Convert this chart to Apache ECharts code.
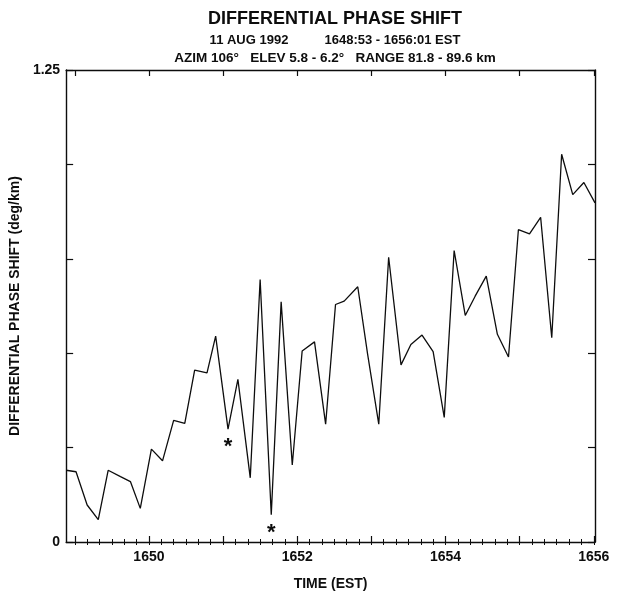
<!DOCTYPE html>
<html>
<head>
<meta charset="utf-8">
<script src="https://cdn.jsdelivr.net/npm/echarts@6/dist/echarts.min.js"></script>
<style>
  html, body { margin: 0; padding: 0; background: #fff; }
  #chart { width: 624px; height: 596px; }
</style>
</head>
<body>
<div id="chart"></div>
<script>
// Scan times, seconds after 16:48:00 EST
const scanSeconds = [
  53, 61, 70, 79, 87, 97, 105, 113, 122, 131,
  140, 149, 157, 167, 174, 184, 192, 202, 210, 219,
  227, 236, 244, 254, 263, 271, 278, 289, 297, 306,
  314, 324, 332, 341, 350, 359, 367, 376, 384, 393,
  402, 411, 419, 428, 437, 446, 454, 463, 472, 481
];
// Differential phase shift, deg/km
const phaseShift = [
  0.190, 0.186, 0.098, 0.059, 0.190, 0.173, 0.160, 0.089, 0.246, 0.215,
  0.322, 0.314, 0.455, 0.448, 0.545, 0.299, 0.431, 0.170, 0.695, 0.072,
  0.636, 0.204, 0.506, 0.530, 0.312, 0.629, 0.638, 0.676, 0.497, 0.312,
  0.754, 0.469, 0.523, 0.548, 0.504, 0.330, 0.772, 0.600, 0.651, 0.704,
  0.550, 0.490, 0.827, 0.816, 0.860, 0.541, 1.027, 0.920, 0.952, 0.898
];
// Flagged scans (marked with an asterisk)
const flaggedIdx = [15, 19];

// Axis ticks and labels
const xMinuteTicks = [60, 120, 180, 240, 300, 360, 420, 480];
const xLabelSeconds = [120, 240, 360, 480];
const xTickLabels = ['1650', '1652', '1654', '1656'];
const yLabelValues = [0, 1.25];
const yTickLabels = ['0', '1.25'];

const xMin = 53, xMax = 481;
const xMinorTicks = [];
for (let s = 60; s <= 480; s += 10) xMinorTicks.push(s);

const FONT = 'Arial, "Liberation Sans", Helvetica, sans-serif';
const INK = '#0d0d0d';

const lineData = scanSeconds.map((t, i) => [t, phaseShift[i]]);

const chart = echarts.init(document.getElementById('chart'), null, { renderer: 'canvas' });

const baseX = {
  type: 'value', min: xMin, max: xMax,
  splitLine: { show: false },
  axisLine: { show: false },
  axisLabel: { show: false }
};

chart.setOption({
  animation: false,
  backgroundColor: '#fff',
  title: [
    { text: 'DIFFERENTIAL PHASE SHIFT', left: 330, top: 5, textAlign: 'center',
      textStyle: { fontFamily: FONT, fontSize: 18, fontWeight: 'bold', color: INK } },
    { text: '11 AUG 1992          1648:53 - 1656:01 EST', left: 330, top: 29, textAlign: 'center',
      textStyle: { fontFamily: FONT, fontSize: 13, fontWeight: 'bold', color: INK } },
    { text: 'AZIM 106°   ELEV 5.8 - 6.2°   RANGE 81.8 - 89.6 km', left: 330, top: 46, textAlign: 'center',
      textStyle: { fontFamily: FONT, fontSize: 13.5, fontWeight: 'bold', color: INK } }
  ],
  grid: { left: 65, right: 29, top: 70, bottom: 53, containLabel: false },
  xAxis: [
    Object.assign({}, baseX, {
      position: 'bottom',
      axisLine: { show: true, onZero: false, lineStyle: { color: INK, width: 1.4 } },
      axisTick: { show: true, inside: true, length: 6, customValues: xMinuteTicks,
        lineStyle: { color: INK, width: 1.2 } },
      axisLabel: { show: true, customValues: xLabelSeconds, margin: 8,
        fontFamily: FONT, fontSize: 14, fontWeight: 'bold', color: INK,
        formatter: v => xTickLabels[xLabelSeconds.indexOf(Math.round(v))] || '' },
      name: 'TIME (EST)', nameLocation: 'middle', nameGap: 35,
      nameTextStyle: { fontFamily: FONT, fontSize: 14, fontWeight: 'bold', color: INK }
    }),
    Object.assign({}, baseX, {
      position: 'bottom',
      axisTick: { show: true, inside: true, length: 3, customValues: xMinorTicks,
        lineStyle: { color: INK, width: 1 } }
    }),
    Object.assign({}, baseX, {
      position: 'top',
      axisLine: { show: true, onZero: false, lineStyle: { color: INK, width: 1.4 } },
      axisTick: { show: true, inside: true, length: 6, customValues: xMinuteTicks,
        lineStyle: { color: INK, width: 1.2 } }
    }),
    Object.assign({}, baseX, {
      position: 'top',
      axisTick: { show: true, inside: true, length: 3, customValues: xMinorTicks,
        lineStyle: { color: INK, width: 1 } }
    })
  ],
  yAxis: [
    {
      type: 'value', min: 0, max: 1.25, interval: 0.25, position: 'left',
      splitLine: { show: false },
      axisLine: { show: true, onZero: false, lineStyle: { color: INK, width: 1.4 } },
      axisTick: { show: true, inside: true, length: 7, lineStyle: { color: INK, width: 1.2 } },
      axisLabel: { show: true, customValues: yLabelValues, margin: 6,
        fontFamily: FONT, fontSize: 14, fontWeight: 'bold', color: INK,
        formatter: v => yTickLabels[yLabelValues.indexOf(v)] || '' },
      name: 'DIFFERENTIAL PHASE SHIFT (deg/km)', nameLocation: 'middle', nameGap: 37,
      nameTextStyle: { fontFamily: FONT, fontSize: 14, fontWeight: 'bold', color: INK }
    },
    {
      type: 'value', min: 0, max: 1.25, interval: 0.25, position: 'right',
      splitLine: { show: false },
      axisLine: { show: true, onZero: false, lineStyle: { color: INK, width: 1.4 } },
      axisTick: { show: true, inside: true, length: 7, lineStyle: { color: INK, width: 1.2 } },
      axisLabel: { show: false }
    }
  ],
  series: [
    {
      type: 'line', xAxisIndex: 0, yAxisIndex: 0,
      data: lineData,
      symbol: 'none',
      lineStyle: { color: INK, width: 1.3 },
      markPoint: {
        symbol: 'circle', symbolSize: 0,
        label: { show: true, formatter: '*', offset: [0, 18],
          fontFamily: FONT, fontSize: 22, fontWeight: 'bold', color: INK },
        data: flaggedIdx.map(i => ({ coord: [scanSeconds[i], phaseShift[i]] }))
      }
    }
  ]
});
</script>
</body>
</html>
